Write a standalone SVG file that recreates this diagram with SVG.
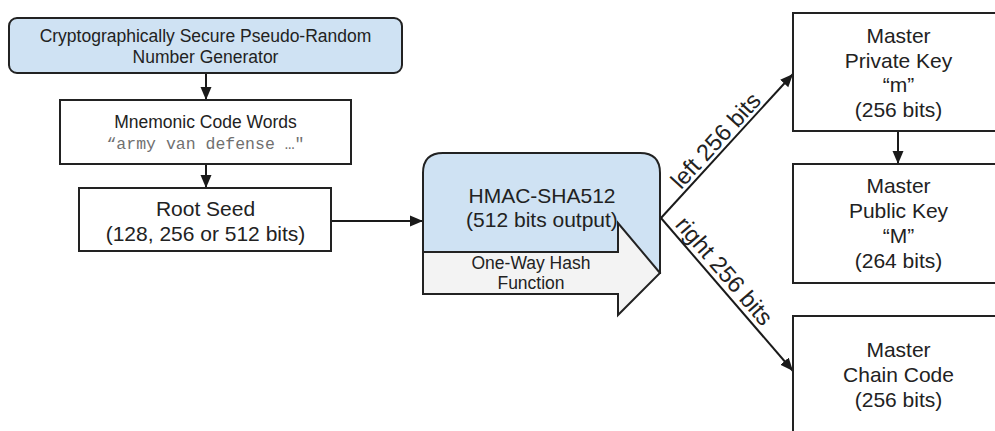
<svg xmlns="http://www.w3.org/2000/svg" width="995" height="431" viewBox="0 0 995 431">
<defs>
<marker id="ah" markerUnits="userSpaceOnUse" markerWidth="14" markerHeight="12" refX="13" refY="6" orient="auto">
<path d="M0,0.5 L13,6 L0,11.5 Z" fill="#1a1a1a"/>
</marker>
<style>
.box{fill:#fff;stroke:#222;stroke-width:2}
.blue{fill:#cfe2f3;stroke:#222;stroke-width:2}
.grey{fill:#f3f3f3;stroke:#222;stroke-width:2}
.t{font-family:"Liberation Sans",Arial,sans-serif;fill:#222;text-anchor:middle}
.s17{font-size:17.5px}
.s21{font-size:21px}
.lbl{font-size:23.5px}
.mono{font-family:"Liberation Mono","Courier New",monospace;font-size:16.5px;fill:#707070;text-anchor:middle}
.conn{stroke:#1a1a1a;stroke-width:2;fill:none;marker-end:url(#ah)}
</style>
</defs>
<rect width="995" height="431" fill="#fff"/>
<g id="connectors">
<line class="conn" x1="206" y1="73" x2="206" y2="100"/>
<line class="conn" x1="206" y1="164" x2="206" y2="188"/>
<line class="conn" x1="331" y1="221" x2="423" y2="221"/>
<line class="conn" x1="661" y1="218" x2="793" y2="74"/>
<line class="conn" x1="661" y1="218" x2="793" y2="371"/>
<line class="conn" x1="898" y1="131" x2="898" y2="164"/>
<text class="t lbl" transform="translate(721.5,146) rotate(-47.5)">left 256 bits</text>
<text class="t lbl" transform="translate(718.3,276.2) rotate(49.2)">right 256 bits</text>
</g>
<g id="csprng">
<rect class="blue" x="9" y="18" width="393" height="55" rx="8"/>
<text class="t s17" x="205.5" y="42">Cryptographically Secure Pseudo-Random</text>
<text class="t s17" x="205.5" y="63">Number Generator</text>
</g>
<g id="mnemonic">
<rect class="box" x="60" y="100" width="291" height="64"/>
<text class="t s17" x="205.5" y="128">Mnemonic Code Words</text>
<text class="mono" x="205.5" y="149">“army van defense …"</text>
</g>
<g id="rootseed">
<rect class="box" x="79" y="188" width="252" height="63"/>
<text class="t s21" x="205.5" y="215.5">Root Seed</text>
<text class="t s21" x="205.5" y="241">(128, 256 or 512 bits)</text>
</g>
<g id="hmac">
<path class="blue" d="M423,273 V173 Q423,153 443,153 H640 Q660,153 660,173 V273 Z"/>
<text class="t s21" x="542" y="203">HMAC-SHA512</text>
<text class="t s21" x="542" y="227">(512 bits output)</text>
<path class="grey" d="M423,252 H618 V223 L660,273 L618,315 V294 H423 Z"/>
<text class="t s17" x="531" y="269">One-Way Hash</text>
<text class="t s17" x="531" y="289">Function</text>
</g>
<g id="privkey">
<rect class="box" x="793" y="13" width="215" height="118"/>
<text class="t s21" x="898.5" y="43">Master</text>
<text class="t s21" x="898.5" y="68">Private Key</text>
<text class="t s21" x="898.5" y="92">“m”</text>
<text class="t s21" x="898.5" y="117">(256 bits)</text>
</g>
<g id="pubkey">
<rect class="box" x="793" y="164" width="215" height="119"/>
<text class="t s21" x="898.5" y="193">Master</text>
<text class="t s21" x="898.5" y="218">Public Key</text>
<text class="t s21" x="898.5" y="243">“M”</text>
<text class="t s21" x="898.5" y="268">(264 bits)</text>
</g>
<g id="chaincode">
<rect class="box" x="793" y="316" width="215" height="130"/>
<text class="t s21" x="898.5" y="357">Master</text>
<text class="t s21" x="898.5" y="382">Chain Code</text>
<text class="t s21" x="898.5" y="407">(256 bits)</text>
</g>
</svg>
